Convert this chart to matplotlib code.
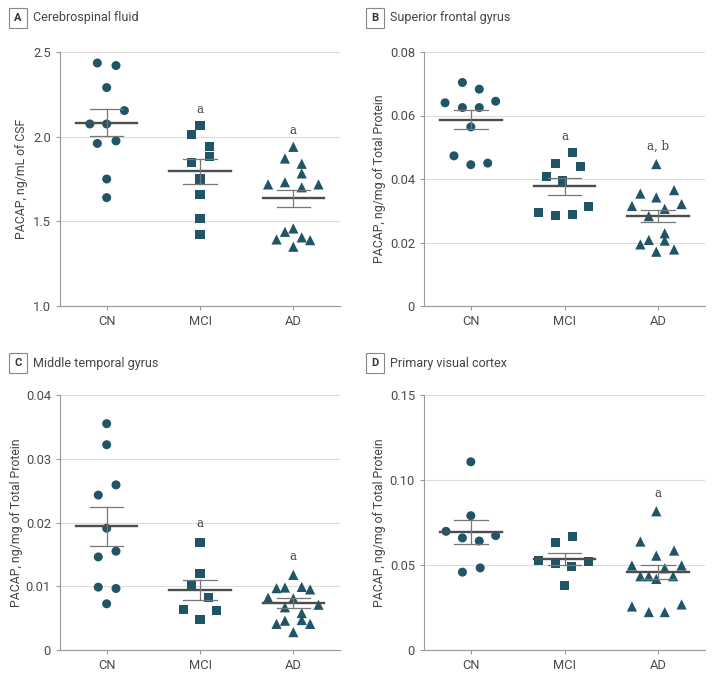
import matplotlib
matplotlib.use('Agg')
import matplotlib.pyplot as plt
import numpy as np

plt.rcParams['font.family'] = ['Roboto', 'DejaVu Sans']

groups = ['CN', 'MCI', 'AD']
markers = ['o', 's', '^']

# panel A - cerebrospinal fluid
a_cn = [2.435, 2.42, 2.29, 2.154, 2.075, 2.075, 1.96, 1.975, 1.75, 1.64]
a_cn_dx = [-0.1, 0.1, 0, 0.19, -0.18, 0, -0.1, 0.1, 0, 0]
a_mci = [2.01, 2.064, 1.944, 1.883, 1.849, 1.75, 1.659, 1.517, 1.423]
a_mci_dx = [-0.09, 0, 0.1, 0.1, -0.09, 0, 0, 0, 0]
a_ad = [1.94, 1.871, 1.84, 1.783, 1.718, 1.731, 1.701, 1.718, 1.458, 1.438, 1.393, 1.405, 1.389, 1.35]
a_ad_dx = [0, -0.09, 0.09, 0.09, -0.27, -0.09, 0.09, 0.27, 0, -0.09, -0.18, 0.09, 0.18, 0]
a_mean = [2.083, 1.796, 1.635]
a_sem = [0.082, 0.075, 0.051]

# panel B - superior frontal gyrus
b_cn = [0.0640, 0.0704, 0.0683, 0.0645, 0.0625, 0.0625, 0.0564, 0.0473, 0.0445, 0.0450]
b_cn_dx = [-0.275, -0.09, 0.09, 0.265, -0.09, 0.09, 0, -0.18, 0, 0.18]
b_mci = [0.0409, 0.0449, 0.0485, 0.0440, 0.0395, 0.0295, 0.0284, 0.0289, 0.0312]
b_mci_dx = [-0.19, -0.1, 0.09, 0.17, -0.02, -0.28, -0.1, 0.09, 0.26]
b_ad = [0.0447, 0.0354, 0.0342, 0.0365, 0.0315, 0.0306, 0.0321, 0.0283, 0.0229, 0.0206,
        0.0208, 0.0194, 0.0171, 0.0178]
b_ad_dx = [-0.02, -0.19, -0.02, 0.17, -0.28, 0.07, 0.25, -0.1, 0.07, 0.07, -0.1, -0.19, -0.02, 0.17]
b_mean = [0.0587, 0.0377, 0.0283]
b_sem = [0.0030, 0.0026, 0.0020]

# panel C - middle temporal gyrus
c_cn = [0.0355, 0.0322, 0.0259, 0.0243, 0.0191, 0.0155, 0.0146, 0.00986, 0.00965, 0.00725]
c_cn_dx = [0, 0, 0.1, -0.09, 0, 0.1, -0.09, -0.09, 0.1, 0]
c_mci = [0.0169, 0.0120, 0.0102, 0.0083, 0.0063, 0.0062, 0.00485]
c_mci_dx = [0, 0, -0.09, 0.09, -0.18, 0.18, 0]
c_ad = [0.01179, 0.0097, 0.0098, 0.0099, 0.0095, 0.0082, 0.0081, 0.0067, 0.0071, 0.0058,
        0.0046, 0.0047, 0.0041, 0.0041, 0.0028]
c_ad_dx = [0, -0.18, -0.09, 0.09, 0.18, -0.27, 0, -0.09, 0.27, 0.09, -0.09, 0.09, -0.18, 0.18, 0]
c_mean = [0.0194, 0.00939, 0.00735]
c_sem = [0.0031, 0.0016, 0.00075]

# panel D - primary visual cortex
d_cn = [0.1107, 0.0790, 0.0698, 0.0659, 0.0641, 0.0673, 0.0458, 0.0483]
d_cn_dx = [0, 0, -0.265, -0.09, 0.09, 0.265, -0.09, 0.1]
d_mci = [0.0634, 0.0665, 0.0526, 0.0510, 0.0493, 0.0518, 0.0379]
d_mci_dx = [-0.1, 0.09, -0.28, -0.1, 0.07, 0.26, 0]
d_ad = [0.0816, 0.0638, 0.0585, 0.0555, 0.0497, 0.0497, 0.0481, 0.0434, 0.0434, 0.0418,
        0.0434, 0.0256, 0.0268, 0.0223, 0.0223]
d_ad_dx = [-0.02, -0.19, 0.17, -0.02, -0.28, 0.25, 0.07, -0.19, -0.1, -0.02, 0.16, -0.28, 0.25, -0.1, 0.07]
d_mean = [0.0692, 0.0536, 0.0458]
d_sem = [0.0071, 0.0035, 0.0040]

panels = [
    dict(letter='A', title='Cerebrospinal fluid', ylabel='PACAP, ng/mL of CSF',
         vals=[a_cn, a_mci, a_ad], dx=[a_cn_dx, a_mci_dx, a_ad_dx], mean=a_mean, sem=a_sem,
         ylim=(1.0, 2.5), ticks=[1.0, 1.5, 2.0, 2.5], tlab=['1.0', '1.5', '2.0', '2.5'],
         notes=[None, ('a', 2.162), ('a', 2.038)],
         rect=[60/714, 1-306/678, 280/714, 254/678], head=(9, 18), labx=22),
    dict(letter='B', title='Superior frontal gyrus', ylabel='PACAP, ng/mg of Total Protein',
         vals=[b_cn, b_mci, b_ad], dx=[b_cn_dx, b_mci_dx, b_ad_dx], mean=b_mean, sem=b_sem,
         ylim=(0, 0.08), ticks=[0, 0.02, 0.04, 0.06, 0.08], tlab=['0', '0.02', '0.04', '0.06', '0.08'],
         notes=[None, ('a', 0.0533), ('a, b', 0.0504)],
         rect=[424/714, 1-306/678, 281/714, 254/678], head=(366, 18), labx=379),
    dict(letter='C', title='Middle temporal gyrus', ylabel='PACAP, ng/mg of Total Protein',
         vals=[c_cn, c_mci, c_ad], dx=[c_cn_dx, c_mci_dx, c_ad_dx], mean=c_mean, sem=c_sem,
         ylim=(0, 0.04), ticks=[0, 0.01, 0.02, 0.03, 0.04], tlab=['0', '0.01', '0.02', '0.03', '0.04'],
         notes=[None, ('a', 0.0199), ('a', 0.0147)],
         rect=[60/714, 1-650/678, 280/714, 255/678], head=(9, 363), labx=17),
    dict(letter='D', title='Primary visual cortex', ylabel='PACAP, ng/mg of Total Protein',
         vals=[d_cn, d_mci, d_ad], dx=[d_cn_dx, d_mci_dx, d_ad_dx], mean=d_mean, sem=d_sem,
         ylim=(0, 0.15), ticks=[0, 0.05, 0.10, 0.15], tlab=['0', '0.05', '0.10', '0.15'],
         notes=[None, None, ('a', 0.0921)],
         rect=[424/714, 1-650/678, 281/714, 255/678], head=(366, 363), labx=380),
]

dot = '#1f5566'
fig = plt.figure(figsize=(7.14, 6.78), dpi=100)

for p in panels:
    ax = fig.add_axes(p['rect'])
    for i, g in enumerate(groups):
        x = i + np.array(p['dx'][i])
        ax.scatter(x, p['vals'][i], marker=markers[i], s=54 if i == 2 else 42,
                   color=dot, edgecolors='none', zorder=3)
        m, s = p['mean'][i], p['sem'][i]
        ax.plot([i-0.33, i+0.33], [m, m], color='#4d4d4d', lw=1.7, zorder=4)
        ax.plot([i, i], [m-s, m+s], color='#777777', lw=0.9, zorder=4)
        for yy in (m-s, m+s):
            ax.plot([i-0.18, i+0.18], [yy, yy], color='#777777', lw=0.9, zorder=4)
        if p['notes'][i]:
            ax.text(i, p['notes'][i][1], p['notes'][i][0], ha='center', va='center',
                    fontsize=8.5, color='#444444', family=['DejaVu Serif'])
    ax.set_xlim(-0.5, 2.5)
    ax.set_ylim(*p['ylim'])
    ax.set_xticks(range(3))
    ax.set_xticklabels(groups)
    ax.set_yticks(p['ticks'])
    ax.set_yticklabels(p['tlab'])
    ax.yaxis.grid(True, color='#dcdcdc', lw=0.8)
    ax.set_axisbelow(True)
    for sp in ['top', 'right']:
        ax.spines[sp].set_visible(False)
    for sp in ['left', 'bottom']:
        ax.spines[sp].set_color('#999999')
        ax.spines[sp].set_linewidth(0.8)
    ax.tick_params(colors='#999999', labelcolor='#4a4a4a', labelsize=9.3, length=3, width=0.8)
    lab = ax.set_ylabel(p['ylabel'], fontsize=8.8, color='#444444')
    lab.set_va('center')
    ax.yaxis.set_label_coords((p['labx'] - p['rect'][0]*714) / (p['rect'][2]*714), 0.5)

    hx, hy = p['head']
    fig.text((hx+9)/714, 1-hy/678, p['letter'], ha='center', va='center', fontsize=8,
             fontweight='bold', color='#333333',
             bbox=dict(boxstyle='square,pad=0.45', fc='white', ec='#888888', lw=0.8))
    fig.text((hx+24)/714, 1-hy/678, p['title'], ha='left', va='center', fontsize=9,
             color='#444444')

plt.savefig('out.png', dpi=100)
